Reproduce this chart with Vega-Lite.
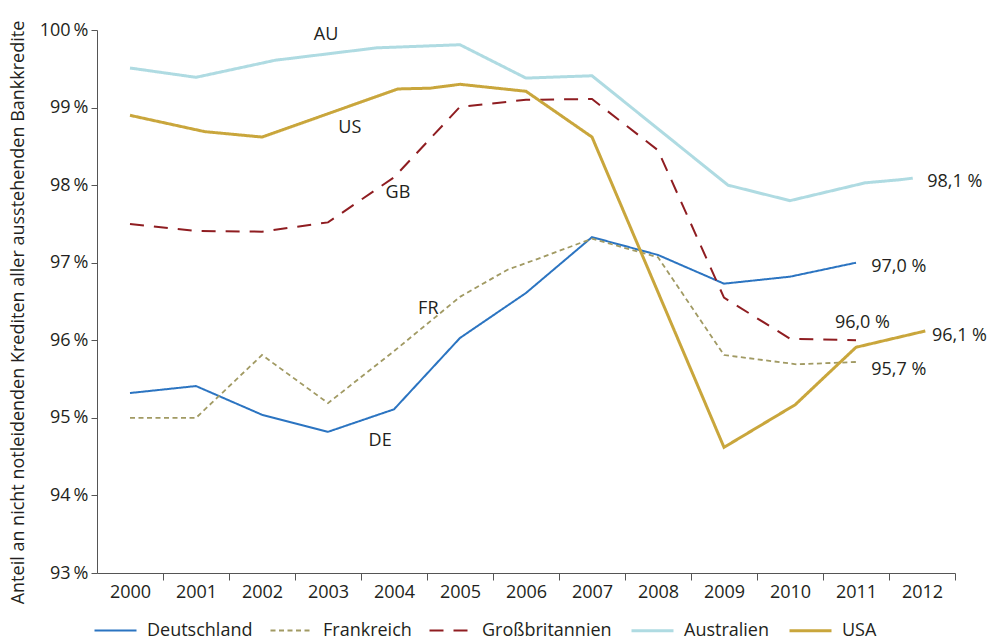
{
  "$schema": "https://vega.github.io/schema/vega-lite/v6.json",
  "width": 858,
  "height": 543,
  "autosize": {"type": "none"},
  "padding": {"left": 97, "top": 30, "right": 38, "bottom": 69},
  "background": "white",
  "config": {
    "font": "Open Sans",
    "view": {"stroke": null},
    "axis": {
      "domainColor": "#555555",
      "tickColor": "#555555",
      "labelColor": "#231f20",
      "titleColor": "#231f20",
      "labelFontSize": 18,
      "titleFontSize": 18,
      "titleFontWeight": "normal",
      "grid": false
    }
  },
  "datasets": {
    "linien": [
      {"land": "Deutschland", "jahr": 2000, "wert": 95.32},
      {"land": "Deutschland", "jahr": 2001, "wert": 95.41},
      {"land": "Deutschland", "jahr": 2002, "wert": 95.04},
      {"land": "Deutschland", "jahr": 2003, "wert": 94.82},
      {"land": "Deutschland", "jahr": 2004, "wert": 95.11},
      {"land": "Deutschland", "jahr": 2005, "wert": 96.03},
      {"land": "Deutschland", "jahr": 2006, "wert": 96.61},
      {"land": "Deutschland", "jahr": 2007, "wert": 97.33},
      {"land": "Deutschland", "jahr": 2008, "wert": 97.1},
      {"land": "Deutschland", "jahr": 2009, "wert": 96.73},
      {"land": "Deutschland", "jahr": 2010, "wert": 96.82},
      {"land": "Deutschland", "jahr": 2011, "wert": 97.0},
      {"land": "Frankreich", "jahr": 2000, "wert": 95.0},
      {"land": "Frankreich", "jahr": 2001, "wert": 95.0},
      {"land": "Frankreich", "jahr": 2002, "wert": 95.81},
      {"land": "Frankreich", "jahr": 2003, "wert": 95.19},
      {"land": "Frankreich", "jahr": 2004, "wert": 95.86},
      {"land": "Frankreich", "jahr": 2005, "wert": 96.56},
      {"land": "Frankreich", "jahr": 2005.72, "wert": 96.91},
      {"land": "Frankreich", "jahr": 2006.18, "wert": 97.05},
      {"land": "Frankreich", "jahr": 2007, "wert": 97.31},
      {"land": "Frankreich", "jahr": 2008, "wert": 97.07},
      {"land": "Frankreich", "jahr": 2009, "wert": 95.81},
      {"land": "Frankreich", "jahr": 2010.1, "wert": 95.69},
      {"land": "Frankreich", "jahr": 2011, "wert": 95.72},
      {"land": "Großbritannien", "jahr": 2000, "wert": 97.5},
      {"land": "Großbritannien", "jahr": 2001, "wert": 97.41},
      {"land": "Großbritannien", "jahr": 2002, "wert": 97.4},
      {"land": "Großbritannien", "jahr": 2003, "wert": 97.52},
      {"land": "Großbritannien", "jahr": 2004, "wert": 98.1},
      {"land": "Großbritannien", "jahr": 2005, "wert": 99.01},
      {"land": "Großbritannien", "jahr": 2006, "wert": 99.1},
      {"land": "Großbritannien", "jahr": 2007, "wert": 99.11},
      {"land": "Großbritannien", "jahr": 2008, "wert": 98.45},
      {"land": "Großbritannien", "jahr": 2009, "wert": 96.55},
      {"land": "Großbritannien", "jahr": 2010, "wert": 96.02},
      {"land": "Großbritannien", "jahr": 2011, "wert": 96.0},
      {"land": "Australien", "jahr": 2000, "wert": 99.51},
      {"land": "Australien", "jahr": 2001, "wert": 99.39},
      {"land": "Australien", "jahr": 2002.2, "wert": 99.61},
      {"land": "Australien", "jahr": 2003.74, "wert": 99.77},
      {"land": "Australien", "jahr": 2005, "wert": 99.81},
      {"land": "Australien", "jahr": 2006, "wert": 99.38},
      {"land": "Australien", "jahr": 2007, "wert": 99.41},
      {"land": "Australien", "jahr": 2009.06, "wert": 98.0},
      {"land": "Australien", "jahr": 2010, "wert": 97.8},
      {"land": "Australien", "jahr": 2011.14, "wert": 98.03},
      {"land": "Australien", "jahr": 2011.67, "wert": 98.07},
      {"land": "Australien", "jahr": 2011.86, "wert": 98.09},
      {"land": "USA", "jahr": 2000, "wert": 98.9},
      {"land": "USA", "jahr": 2001.13, "wert": 98.69},
      {"land": "USA", "jahr": 2002, "wert": 98.62},
      {"land": "USA", "jahr": 2004.06, "wert": 99.24},
      {"land": "USA", "jahr": 2004.55, "wert": 99.25},
      {"land": "USA", "jahr": 2005, "wert": 99.3},
      {"land": "USA", "jahr": 2006, "wert": 99.21},
      {"land": "USA", "jahr": 2007, "wert": 98.62},
      {"land": "USA", "jahr": 2009, "wert": 94.62},
      {"land": "USA", "jahr": 2010.08, "wert": 95.17},
      {"land": "USA", "jahr": 2011, "wert": 95.91},
      {"land": "USA", "jahr": 2012.05, "wert": 96.12}
    ],
    "beschriftung": [
      {"art": "kuerzel", "text": "AU", "jahr": 2002.97, "wert": 99.94},
      {"art": "kuerzel", "text": "US", "jahr": 2003.33, "wert": 98.74},
      {"art": "kuerzel", "text": "GB", "jahr": 2004.06, "wert": 97.9},
      {"art": "kuerzel", "text": "FR", "jahr": 2004.52, "wert": 96.4},
      {"art": "kuerzel", "text": "DE", "jahr": 2003.79, "wert": 94.7},
      {"art": "endwert", "text": "98,1 %", "jahr": 2012.08, "wert": 98.04},
      {"art": "endwert", "text": "97,0 %", "jahr": 2011.23, "wert": 96.94},
      {"art": "endwert", "text": "96,0 %", "jahr": 2010.68, "wert": 96.22},
      {"art": "endwert", "text": "96,1 %", "jahr": 2012.15, "wert": 96.06},
      {"art": "endwert", "text": "95,7 %", "jahr": 2011.23, "wert": 95.62}
    ]
  },
  "layer": [
    {
      "data": {"name": "linien"},
      "mark": {"type": "line", "strokeCap": "butt", "strokeJoin": "miter"},
      "encoding": {
        "x": {
          "field": "jahr",
          "type": "quantitative",
          "scale": {"domain": [1999.5, 2012.5], "nice": false, "zero": false},
          "axis": {
            "title": null,
            "values": [2000, 2001, 2002, 2003, 2004, 2005, 2006, 2007, 2008, 2009, 2010, 2011, 2012],
            "format": "d",
            "tickOffset": 33,
            "labelOffset": -33,
            "labelOverlap": false,
            "labelFlush": false,
            "tickSize": 7,
            "labelPadding": 3
          }
        },
        "y": {
          "field": "wert",
          "type": "quantitative",
          "scale": {"domain": [93, 100], "nice": false, "zero": false},
          "axis": {
            "title": "Anteil an nicht notleidenden Krediten aller ausstehenden Bankkredite",
            "values": [93, 94, 95, 96, 97, 98, 99, 100],
            "labelExpr": "datum.value + '\u2009%'",
            "tickSize": 6,
            "labelPadding": 3,
            "titleX": -70,
            "titleY": 282,
            "titleAngle": -90,
            "titleAlign": "center",
            "titleBaseline": "bottom"
          }
        },
        "color": {
          "field": "land",
          "type": "nominal",
          "sort": ["Deutschland", "Frankreich", "Großbritannien", "Australien", "USA"],
          "scale": {
            "domain": ["Deutschland", "Frankreich", "Großbritannien", "Australien", "USA"],
            "range": ["#2b74c1", "#a19a63", "#8f1d21", "#afdbe2", "#c9a63c"]
          },
          "legend": {
            "orient": "none",
            "legendX": -4,
            "legendY": 578,
            "direction": "horizontal",
            "columns": 5,
            "title": null,
            "symbolType": "stroke",
            "symbolSize": 1764,
            "labelFontSize": 18,
            "labelColor": "#231f20",
            "labelOffset": 9,
            "columnPadding": 13
          }
        },
        "strokeDash": {
          "field": "land",
          "type": "nominal",
          "sort": ["Deutschland", "Frankreich", "Großbritannien", "Australien", "USA"],
          "scale": {
            "domain": ["Deutschland", "Frankreich", "Großbritannien", "Australien", "USA"],
            "range": [[1, 0], [5, 3.5], [14, 10], [1, 0], [1, 0]]
          }
        },
        "strokeWidth": {
          "field": "land",
          "type": "nominal",
          "sort": ["Deutschland", "Frankreich", "Großbritannien", "Australien", "USA"],
          "scale": {
            "type": "ordinal",
            "domain": ["Deutschland", "Frankreich", "Großbritannien", "Australien", "USA"],
            "range": [2, 1.8, 2, 3, 3]
          }
        }
      }
    },
    {
      "data": {"name": "beschriftung"},
      "transform": [{"filter": "datum.art === 'kuerzel'"}],
      "mark": {"type": "text", "align": "center", "baseline": "middle", "fontSize": 18, "color": "#231f20"},
      "encoding": {
        "x": {"field": "jahr", "type": "quantitative"},
        "y": {"field": "wert", "type": "quantitative"},
        "text": {"field": "text"}
      }
    },
    {
      "data": {"name": "beschriftung"},
      "transform": [{"filter": "datum.art === 'endwert'"}],
      "mark": {"type": "text", "align": "left", "baseline": "middle", "fontSize": 18, "color": "#231f20"},
      "encoding": {
        "x": {"field": "jahr", "type": "quantitative"},
        "y": {"field": "wert", "type": "quantitative"},
        "text": {"field": "text"}
      }
    }
  ]
}
